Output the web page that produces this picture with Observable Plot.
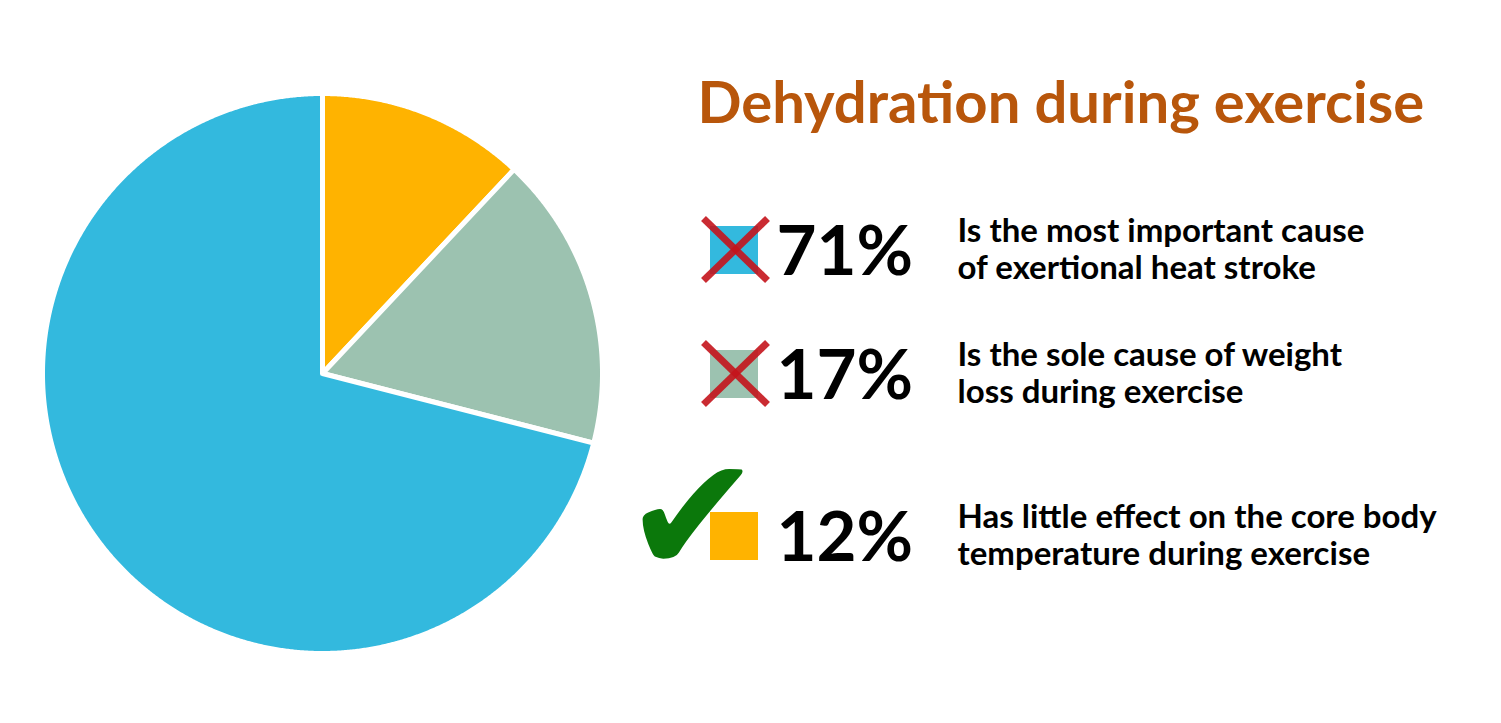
<!DOCTYPE html>
<html><head><meta charset="utf-8">
<script src="https://cdn.jsdelivr.net/npm/d3@7"></script>
<script src="https://cdn.jsdelivr.net/npm/@observablehq/plot@0.6"></script>
<style>body{margin:0;background:#fff;overflow:hidden}</style>
</head><body><div id="chart"></div>
<script>
// ---- data ----
const categories = ["most important cause", "sole cause of weight loss", "little effect on core temperature"];
const values = [71, 17, 12];
const colors = ["#33B9DE", "#9CC2B0", "#FFB300"];
const percentLabels = ["71%", "17%", "12%"];
const descriptions = [
  "Is the most important cause\nof exertional heat stroke",
  "Is the sole cause of weight\nloss during exercise",
  "Has little effect on the core body\ntemperature during exercise"
];
const correct = [false, false, true];
const title = "Dehydration during exercise";

// ---- layout ----
const W = 1501, H = 723;
const cx = 322, cy = 373, r = 280;
const rowBase = [274, 398, 560];
const sqX = 710, sqSize = 48;
const font = "Lato, 'Open Sans', sans-serif";

// pie: clockwise from 12 o'clock, smallest (correct answer) first
const order = [2, 1, 0];
const arcs = d3.pie().sort(null).value(i => values[i])(order);
const pieRows = [];
for (const a of arcs) {
  const i = a.data;
  pieRows.push({k: i, x: cx, y: cy});
  const n = Math.max(2, Math.ceil((a.endAngle - a.startAngle) / 0.005));
  for (let j = 0; j <= n; j++) {
    const t = a.startAngle + (a.endAngle - a.startAngle) * j / n;
    pieRows.push({k: i, x: cx + r * Math.sin(t), y: cy - r * Math.cos(t)});
  }
  pieRows.push({k: i, x: cx, y: cy});
}

const legend = values.map((v, i) => ({
  i, color: colors[i], pct: percentLabels[i], desc: descriptions[i], correct: correct[i], base: rowBase[i]
}));
const wrong = legend.filter(d => !d.correct);
const right = legend.filter(d => d.correct);

const chart = Plot.plot({
  width: W, height: H, margin: 0,
  x: {domain: [0, W], range: [0, W], axis: null},
  y: {domain: [0, H], range: [0, H], axis: null},
  color: {type: "identity"},
  style: {fontFamily: font, background: "white"},
  marks: [
    Plot.line(pieRows, {x: "x", y: "y", z: "k", fill: d => colors[d.k], stroke: "white", strokeWidth: 5, strokeLinejoin: "round", curve: "linear"}),
    Plot.text([title], {x: 697, y: 122, text: d => d, textAnchor: "start", lineAnchor: "bottom", fontSize: 58, fontWeight: 700, fill: "#B8560B", fontFamily: font}),
    Plot.rect(legend, {x1: sqX, x2: sqX + sqSize, y1: d => d.base - sqSize, y2: d => d.base, fill: "color"}),
    Plot.link(wrong, {x1: sqX - 7, y1: d => d.base - 56, x2: sqX + 57, y2: d => d.base + 6, stroke: "#C4141C", strokeWidth: 7, strokeOpacity: 0.9}),
    Plot.link(wrong, {x1: sqX + 57, y1: d => d.base - 56, x2: sqX - 7, y2: d => d.base + 6, stroke: "#C4141C", strokeWidth: 7, strokeOpacity: 0.9}),
    Plot.text(right, {x: sqX - 18, y: d => d.base + 12, text: () => "\u2714", textAnchor: "middle", lineAnchor: "bottom", fontSize: 165, fill: "#0B780B", fontFamily: "DejaVu Sans"}),
    Plot.text(legend, {x: 776, y: "base", text: "pct", textAnchor: "start", lineAnchor: "bottom", fontSize: 69, fontWeight: 700, fill: "black", fontFamily: font}),
    Plot.text(legend, {x: 957, y: d => d.base + 4, text: "desc", textAnchor: "start", lineAnchor: "bottom", lineHeight: 1.1, fontSize: 33, fontWeight: 700, fill: "black", fontFamily: font})
  ]
});
document.getElementById("chart").appendChild(chart);
</script>
</body></html>
